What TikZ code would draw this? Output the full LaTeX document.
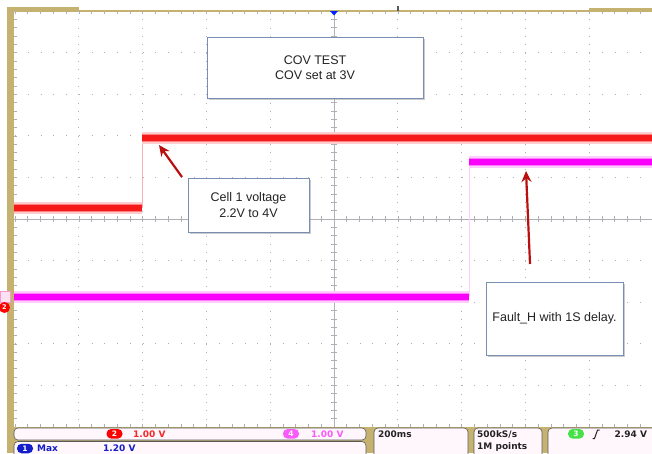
\documentclass[tikz,border=0pt]{standalone}
\usepackage{fontspec}
\setmainfont{Liberation Sans}
\newfontfamily\tekfont{DejaVu Sans}
\usetikzlibrary{arrows.meta,shadows}
\definecolor{tan}{RGB}{197,178,112}
\definecolor{boxblue}{RGB}{120,143,178}
\definecolor{gridgray}{RGB}{175,175,182}
\definecolor{trred}{RGB}{245,25,25}
\definecolor{trmag}{RGB}{250,0,250}
\definecolor{arrowred}{RGB}{185,15,15}
\definecolor{sbfill}{RGB}{255,247,252}
\definecolor{chred}{RGB}{245,40,40}
\definecolor{chmag}{RGB}{250,90,250}
\definecolor{chblue}{RGB}{20,30,200}
\definecolor{chgreen}{RGB}{70,225,70}
\definecolor{txtdark}{RGB}{35,35,35}
\tikzset{
  vgrid/.style={gridgray, line width=0.9pt, dash pattern=on 0.9pt off 7.42pt},
  hgrid/.style={gridgray, line width=0.9pt, dash pattern=on 0.9pt off 11.86pt},
  tickline/.style={gridgray, line width=0.6pt},
  halored/.style={trred!22, line width=12pt},
  midred/.style={trred!55, line width=8.5pt},
  corered/.style={trred, line width=5.5pt},
  halomag/.style={trmag!20, line width=12pt},
  midmag/.style={trmag!50, line width=8.5pt},
  coremag/.style={trmag, line width=5.5pt},
  textbox/.style={draw=boxblue, fill=white, line width=1pt, align=center,
    text=txtdark, font=\fontsize{12.5}{15.5}\selectfont, inner sep=0pt,
    drop shadow={shadow xshift=2pt, shadow yshift=-2pt, opacity=0.5, fill=gray!80}},
  callout/.style={arrowred, line width=2.2pt, -{Stealth[length=11pt, width=10pt]}},
  sbox/.style={draw=gray!70!black, fill=sbfill, rounded corners=4pt, line width=0.6pt},
  sbtext/.style={anchor=west, inner sep=0pt, font=\tekfont\bfseries\fontsize{9}{10}\selectfont},
  pill/.style={rounded corners=4.5pt, minimum width=16pt, minimum height=9.5pt, inner sep=0pt,
    text=white, font=\tekfont\bfseries\fontsize{7.5}{7.5}\selectfont}
}
\begin{document}
\begin{tikzpicture}[x=1pt,y=-1pt]
\useasboundingbox (0,0) rectangle (652,453);
\fill[white] (0,0) rectangle (652,453);
% frame
\fill[tan] (7,7) rectangle (79,11);
\fill[tan] (7,7) rectangle (14,453);
\fill[tan] (589,8) rectangle (652,12);
\draw[tan, line width=1.3pt] (14,11) -- (652,11);
% grid
\foreach \i in {1,...,9} {
  \draw[vgrid] ({15+63.8*\i},11) -- ({15+63.8*\i},427);
}
\foreach \j in {1,...,9} {
  \draw[hgrid] (15,{11+41.6*\j}) -- (652,{11+41.6*\j});
}
% centre axes with ticks
\draw[tickline] (334,11) -- (334,427);
\draw[tickline] (15,219) -- (652,219);
\foreach \k in {0,...,50} {
  \draw[tickline] (331,{11+8.32*\k}) -- (337,{11+8.32*\k});
  \draw[tickline] ({15+12.76*\k},216) -- ({15+12.76*\k},222);
  \draw[tickline] ({15+12.76*\k},11) -- ({15+12.76*\k},14);
  \draw[tickline] ({15+12.76*\k},427) -- ({15+12.76*\k},424);
  \draw[tickline] (14,{11+8.32*\k}) -- (17,{11+8.32*\k});
}
% markers
\fill[blue!85!cyan] (330,11) -- (338,11) -- (334,15.5) -- cycle;
\fill[gray!70!black] (397,6) rectangle (399,11);
% traces
\draw[trred!35, line width=0.8pt] (142,208) -- (142,138);
\draw[trmag!20, line width=0.8pt] (469,297) -- (469,162);
\foreach \s in {halored,midred,corered} {
  \draw[\s] (14,208) -- (142,208);
  \draw[\s] (142,138) -- (652,138);
}
\foreach \s in {halomag,midmag,coremag} {
  \draw[\s] (14,297) -- (469,297);
  \draw[\s] (469,162) -- (652,162);
}
% left channel markers
\fill[magenta!12] (0,291) rectangle (10,302);
\draw[magenta!40, line width=0.5pt] (0,291) rectangle (10,302);
\fill[red] (4.5,307.5) circle (5.5);
\node[text=white, inner sep=0pt, font=\tekfont\bfseries\fontsize{6.5}{6.5}\selectfont] (m2) at (4.5,307.5) {2};
% text boxes
\node[textbox, minimum width=216pt, minimum height=61pt] (cov) at (315,67.5) {COV TEST\\COV set at 3V};
\node[textbox, minimum width=121pt, minimum height=54pt] (cell) at (248.5,205) {Cell 1 voltage\\2.2V to 4V};
\node[textbox, minimum width=137pt, minimum height=73pt] (fault) at (554.5,318.5) {Fault\_H with 1S delay.};
% callouts
\coordinate (c1s) at (182,177);
\coordinate (c1e) at (159,145);
\coordinate (c2s) at (530,264);
\coordinate (c2e) at (526,171);
\draw[callout] (c1s) -- (c1e);
\draw[callout] (c2s) -- (c2e);
% status bar
\fill[tan] (7,427) rectangle (652,453);
\draw[sbox] (14,428) rectangle (366,440);
\draw[sbox] (14,441.5) rectangle (366,458);
\draw[sbox] (374,428) rectangle (468,458);
\draw[sbox] (474,428) rectangle (542,458);
\draw[sbox] (548,428) rectangle (660,458);
\node[pill, fill=red] (p2) at (114.5,433.8) {2};
\node[sbtext, text=chred] (v2) at (133,434.3) {1.00 V};
\node[pill, fill=chmag] (p4) at (291,433.8) {4};
\node[sbtext, text=chmag] (v4) at (311,434.3) {1.00 V};
\node[pill, fill=chblue] (p1) at (25,448.5) {1};
\node[sbtext, text=chblue] (mx) at (37,448) {Max};
\node[sbtext, text=chblue] (v1) at (103,448) {1.20 V};
\node[sbtext, text=txtdark] (tb) at (378,434.3) {200ms};
\node[sbtext, text=txtdark] (sr) at (477,434.3) {500kS/s};
\node[sbtext, text=txtdark] (pts) at (477,447.3) {1M points};
\node[pill, fill=chgreen] (p3) at (576,433.8) {3};
\draw[txtdark, line width=1pt] (592.5,438.5) -- (594.5,438.5) -- (597.5,430) -- (599.5,430);
\node[sbtext, text=txtdark] (trg) at (614.5,434.3) {2.94 V};
\end{tikzpicture}
\end{document}
